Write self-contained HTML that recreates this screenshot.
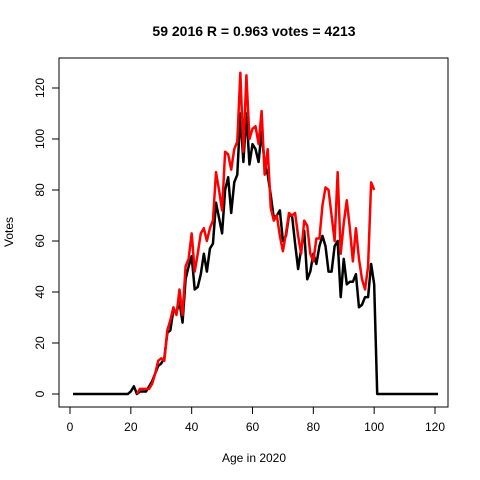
<!DOCTYPE html>
<html><head><meta charset="utf-8"><style>body{margin:0;background:#fff}svg{display:block;font-family:"Liberation Sans",Arial,sans-serif}</style></head>
<body>
<svg id="chart" width="480" height="480" viewBox="0 0 480 480">
<rect width="480" height="480" fill="#fff"/>
<text x="254" y="36" text-anchor="middle" font-size="14" font-weight="bold">59 2016 R = 0.963 votes = 4213</text>
<rect x="59" y="58" width="389" height="349" fill="none" stroke="#000" stroke-width="1"/>
<text x="254" y="462" text-anchor="middle" font-size="12">Age in 2020</text>
<text transform="translate(13,232) rotate(-90)" text-anchor="middle" font-size="12">Votes</text>
<g id="axes"></g><g id="series"></g>
</svg>
<script>
const xTicks=[0,20,40,60,80,100,120];
const yTicks=[0,20,40,60,80,100,120];
const blackAges=[];for(let a=1;a<=121;a++)blackAges.push(a);
const blackVotes=[0,0,0,0,0,0,0,0,0,0,0,0,0,0,0,0,0,0,0,1,3,0,1,1,1,3,5,8,11,12,14,24,25,33,32,36,28,45,50,54,41,42,47,55,48,57,59,75,69,63,80,85,71,83,86,110,91,110,90,98,96,91,103,90,86,78,69,70,72,60,62,70,70,59,49,57,64,45,48,55,51,58,62,58,48,48,58,60,38,53,43,44,44,47,34,35,38,38,51,43,0,0,0,0,0,0,0,0,0,0,0,0,0,0,0,0,0,0,0,0,0];
const redAges=[];for(let a=22;a<=100;a++)redAges.push(a);
const redVotes=[0,2,2,2,2,4,8,13,14,13,25,29,34,31,41,31,50,53,63,48,55,63,65,60,65,68,87,80,72,95,94,88,96,99,126,95,125,100,104,105,98,111,86,96,73,68,70,62,56,63,71,70,71,62,55,68,66,55,52,61,61,74,81,80,70,60,87,55,67,76,65,52,65,53,45,41,50,83,80];
const X=a=>70+a*365/120, Y=v=>394-v*306/120;
const NS='http://www.w3.org/2000/svg';
const axes=document.getElementById('axes'),series=document.getElementById('series');
function mk(t,at,p){const e=document.createElementNS(NS,t);for(const k in at)e.setAttribute(k,at[k]);p.appendChild(e);return e;}
let l=mk('line',{x1:X(0),x2:X(120),y1:407,y2:407,stroke:'#000'},axes);


xTicks.forEach(t=>{const g=mk('g',{},axes);


mk('line',{x1:X(t),x2:X(t),y1:407,y2:414,stroke:'#000'},g);
const tx=mk('text',{x:X(t),y:431,'text-anchor':'middle','font-size':12},g);tx.textContent=t;});
l=mk('line',{x1:59,x2:59,y1:Y(0),y2:Y(120),stroke:'#000'},axes);


yTicks.forEach(t=>{const g=mk('g',{},axes);


mk('line',{x1:52,x2:59,y1:Y(t),y2:Y(t),stroke:'#000'},g);
const tx=mk('text',{transform:`translate(44,${Y(t)}) rotate(-90)`,'text-anchor':'middle','font-size':12},g);tx.textContent=t;});
function line(ages,vals,col,name){const p=mk('polyline',{points:ages.map((a,i)=>X(a)+','+Y(vals[i])).join(' '),fill:'none',stroke:col,'stroke-width':2.5,'stroke-linejoin':'round'},series);

}
line(blackAges,blackVotes,'#000','black-series-line');
line(redAges,redVotes,'#f00','red-series-line');
</script>
</body></html>
